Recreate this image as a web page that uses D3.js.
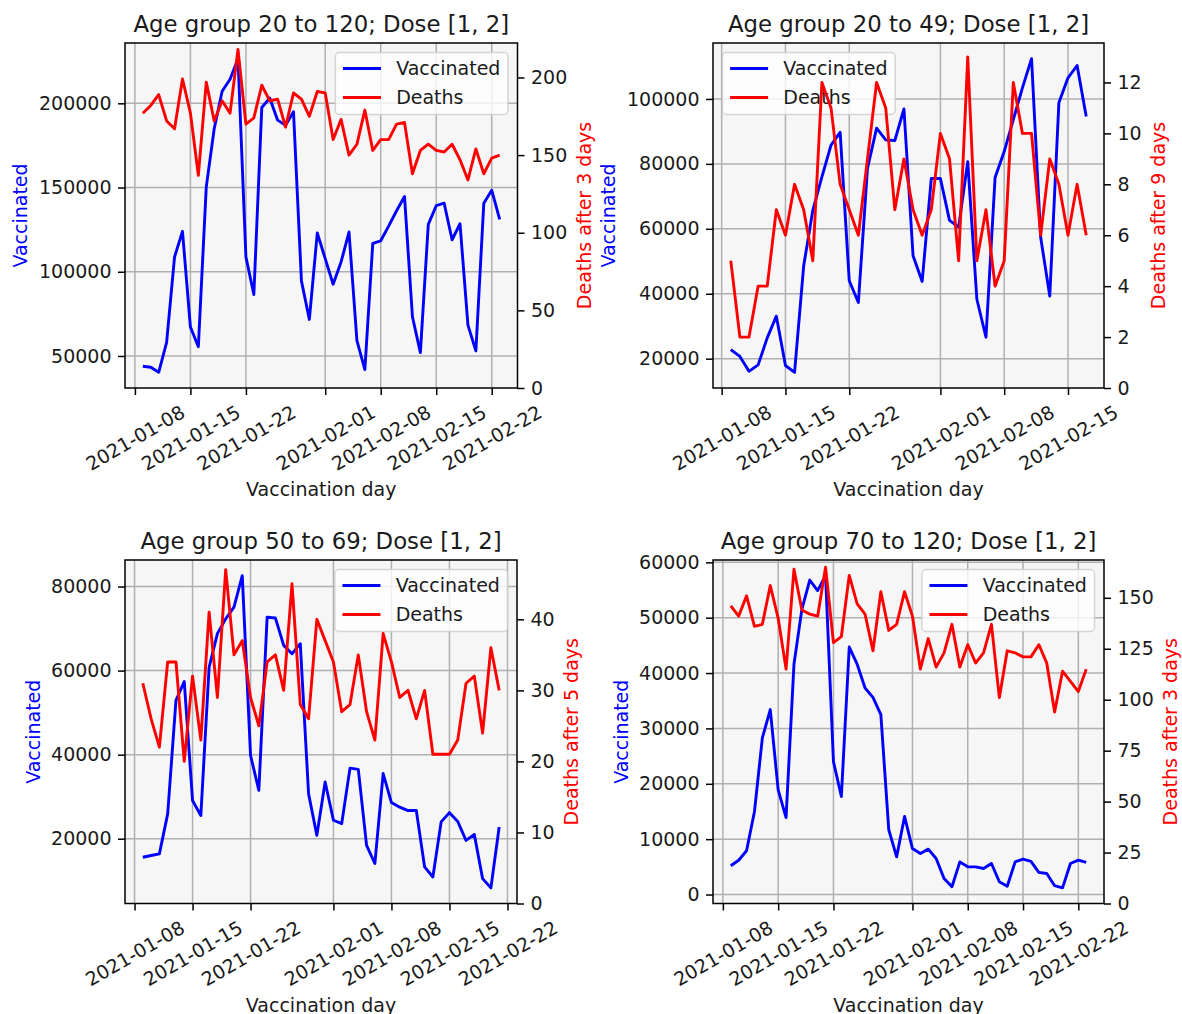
<!DOCTYPE html>
<html><head><meta charset="utf-8">
<script src="https://cdn.jsdelivr.net/npm/d3@7"></script>
<style>
body{margin:0;background:#fff}
svg{display:block}
text{font-family:"DejaVu Sans",sans-serif}
</style>
</head><body>
<svg id="c" width="1182" height="1014"></svg>
<script>
// ---------------- DATA ----------------
const titles = [
  "Age group 20 to 120; Dose [1, 2]",
  "Age group 20 to 49; Dose [1, 2]",
  "Age group 50 to 69; Dose [1, 2]",
  "Age group 70 to 120; Dose [1, 2]"
];
const deathLabels = ["Deaths after 3 days", "Deaths after 9 days", "Deaths after 5 days", "Deaths after 3 days"];
const leftLabel = "Vaccinated";
const xLabel = "Vaccination day";
const seriesNames = ["Vaccinated", "Deaths"];
// first and last vaccination day of each panel (one point per day)
const firstDays = ["2021-01-09", "2021-01-09", "2021-01-09", "2021-01-09"];
const lastDays  = ["2021-02-23", "2021-02-17", "2021-02-21", "2021-02-23"];
const xTickLabels = ["2021-01-08","2021-01-15","2021-01-22","2021-02-01","2021-02-08","2021-02-15","2021-02-22"];

const vacc1 = [43900,43300,40300,58100,108800,124000,67200,55500,150400,184900,207200,214300,226500,108800,86500,197500,203100,190000,186900,195000,94600,71700,123000,107800,92600,105800,123600,59100,41900,116900,118400,127100,136200,144700,73300,52000,128100,139200,140700,119000,128500,68300,53000,140700,148400,131100];
const deaths1 = [177,182,189,172,167,199,177,137,197,172,185,177,218,170,174,195,185,186,168,190,186,175,191,190,160,173,150,157,179,153,160,160,170,171,138,153,157,153,152,157,147,134,154,138,148,150];

const vacc2 = [22800,20700,16100,18100,26400,33100,17900,15800,48600,65700,76000,85800,89700,44000,37300,78600,91000,87400,87200,96900,51700,43800,75500,75500,62600,60500,80700,38300,26600,75800,83800,93600,103400,112400,57400,39300,98800,106500,110300,94600];
const deaths2 = [5,2,2,4,4,7,6,8,7,5,12,11,8,7,6,9,12,11,7,9,7,6,7,10,9,5,13,5,7,4,5,12,10,10,6,9,8,6,8,6];

const vacc3 = [15600,16000,16400,25900,52900,57400,29100,25500,60800,68800,72300,75100,82600,39800,31500,72700,72500,66000,64000,66400,30700,20800,33500,24400,23600,36800,36500,18400,14100,35500,28600,27500,26700,26700,13300,10900,24000,26200,24100,19600,21000,10500,8300,22800];
const deaths3 = [31,26,22,34,34,20,32,23,41,29,47,35,37,29,25,34,35,30,45,28,26,40,37,34,27,28,35,27,23,38,34,29,30,26,30,21,21,21,23,31,32,24,36,30];

const vacc4 = [5200,6200,7900,15000,28300,33400,18900,13900,41600,51500,56800,54900,57600,24000,17700,44700,41600,37300,35600,32500,11700,6800,14100,8300,7400,8200,6500,2900,1400,5900,5000,5000,4700,5600,2300,1500,5900,6400,6000,4000,3800,1600,1200,5600,6200,5800];
const deaths4 = [146,141,151,136,137,156,140,115,164,144,142,141,165,128,131,161,147,142,124,153,134,137,153,141,115,130,116,123,137,116,127,118,123,137,101,124,123,121,121,127,118,94,114,109,104,115];

const leftTicks1 = [50000,100000,150000,200000];
const rightTicks1 = [0,50,100,150,200];
const leftTicks2 = [20000,40000,60000,80000,100000];
const rightTicks2 = [0,2,4,6,8,10,12];
const leftTicks3 = [20000,40000,60000,80000];
const rightTicks3 = [0,10,20,30,40];
const leftTicks4 = [0,10000,20000,30000,40000,50000,60000];
const rightTicks4 = [0,25,50,75,100,125,150];

// ---------------- LAYOUT ----------------
const FS = 19, TFS = 22.8, LW = 2.9;
const TEXT = "#1a1a1a";
const parse = d3.timeParse("%Y-%m-%d");
const svg = d3.select("#c");

const panels = [
  {box:[125, 43, 517.5, 388],  vacc:vacc1, deaths:deaths1, lt:leftTicks1, rt:rightTicks1, legend:"right"},
  {box:[713, 43, 1104, 388],   vacc:vacc2, deaths:deaths2, lt:leftTicks2, rt:rightTicks2, legend:"left"},
  {box:[125, 560, 517, 903.5], vacc:vacc3, deaths:deaths3, lt:leftTicks3, rt:rightTicks3, legend:"right"},
  {box:[713, 560, 1104, 903.5],vacc:vacc4, deaths:deaths4, lt:leftTicks4, rt:rightTicks4, legend:"right"}
];

function styleAxis(a){
  a.select(".domain").remove();
  a.selectAll(".tick line").attr("stroke","#000").attr("stroke-width",1.5);
  a.selectAll(".tick text").attr("fill",TEXT).style("font-size",FS+"px").style("font-family","DejaVu Sans");
}

panels.forEach((p, i) => {
  const [L,T,R,B] = p.box;
  const g = svg.append("g");
  const dates = d3.timeDay.range(parse(firstDays[i]), d3.timeDay.offset(parse(lastDays[i]), 1));
  const span = dates[dates.length-1] - dates[0];
  const x = d3.scaleTime()
    .domain([new Date(+dates[0] - 0.05*span), new Date(+dates[dates.length-1] + 0.05*span)])
    .range([L, R]);
  const vMin = d3.min(p.vacc), vMax = d3.max(p.vacc);
  const yL = d3.scaleLinear().domain([vMin - 0.05*(vMax-vMin), vMax + 0.05*(vMax-vMin)]).range([B, T]);
  const dMin = d3.min(p.deaths), dMax = d3.max(p.deaths);
  const yR = d3.scaleLinear().domain([0, dMax + 0.05*(dMax-dMin)]).range([B, T]);

  // background
  g.append("rect").attr("x",L).attr("y",T).attr("width",R-L).attr("height",B-T).attr("fill","#f6f6f6");

  // grid
  const xt = xTickLabels.map(parse).filter(d => d >= x.domain()[0] && d <= x.domain()[1]);
  g.append("g").selectAll("line").data(xt).join("line")
    .attr("x1",d=>x(d)).attr("x2",d=>x(d)).attr("y1",T).attr("y2",B)
    .attr("stroke","#b0b0b0").attr("stroke-width",1.5);
  g.append("g").selectAll("line").data(p.lt).join("line")
    .attr("x1",L).attr("x2",R).attr("y1",d=>yL(d)).attr("y2",d=>yL(d))
    .attr("stroke","#b0b0b0").attr("stroke-width",1.5);

  // vaccinated line
  g.append("path").datum(p.vacc)
    .attr("d", d3.line().x((d,j)=>x(dates[j])).y(d=>yL(d)))
    .attr("fill","none").attr("stroke","#0000ff").attr("stroke-width",LW).attr("stroke-linejoin","round");

  // legend (belongs to first axes, below the deaths line)
  const lg = g.append("g");
  const tmp = lg.append("text").style("font-size",FS+"px").text(seriesNames[0]);
  const tw = tmp.node().getComputedTextLength(); tmp.remove();
  const lw = (0.4+2+0.8+0.4)*FS + tw, lh = 62;
  const lx = p.legend === "right" ? R - 9.5 - lw : L + 9.5;
  const ly = T + 9.5;
  lg.append("rect").attr("x",lx).attr("y",ly).attr("width",lw).attr("height",lh).attr("rx",4)
    .attr("fill","#fff").attr("fill-opacity",0.8).attr("stroke","#cccccc").attr("stroke-opacity",0.8).attr("stroke-width",1.5);
  [["#0000ff",16],["#ff0000",45]].forEach(([c,dy],k)=>{
    lg.append("line").attr("x1",lx+0.4*FS).attr("x2",lx+2.4*FS).attr("y1",ly+dy).attr("y2",ly+dy)
      .attr("stroke",c).attr("stroke-width",LW);
    lg.append("text").attr("x",lx+3.2*FS).attr("y",ly+dy).attr("dy","0.35em")
      .attr("fill",TEXT).style("font-size",FS+"px").text(seriesNames[k]);
  });

  // deaths line (twin axes, drawn on top)
  g.append("path").datum(p.deaths)
    .attr("d", d3.line().x((d,j)=>x(dates[j])).y(d=>yR(d)))
    .attr("fill","none").attr("stroke","#ff0000").attr("stroke-width",LW).attr("stroke-linejoin","round");

  // spines
  g.append("rect").attr("x",L).attr("y",T).attr("width",R-L).attr("height",B-T)
    .attr("fill","none").attr("stroke","#000").attr("stroke-width",1.5);

  // axes
  const ax = g.append("g").attr("transform",`translate(0,${B})`)
    .call(d3.axisBottom(x).tickValues(xt).tickSize(7).tickFormat(d3.timeFormat("%Y-%m-%d")));
  styleAxis(ax);
  ax.selectAll(".tick text").attr("y",0).attr("dy","0.35em").attr("text-anchor","middle")
    .attr("transform","translate(0,50) rotate(-30)");

  const al = g.append("g").attr("transform",`translate(${L},0)`)
    .call(d3.axisLeft(yL).tickValues(p.lt).tickSize(7).tickPadding(6.5).tickFormat(d3.format("d")));
  styleAxis(al);
  const ar = g.append("g").attr("transform",`translate(${R},0)`)
    .call(d3.axisRight(yR).tickValues(p.rt).tickSize(7).tickPadding(6.5).tickFormat(d3.format("d")));
  styleAxis(ar);

  const lW = d3.max(al.selectAll(".tick text").nodes(), n => n.getComputedTextLength());
  const rW = d3.max(ar.selectAll(".tick text").nodes(), n => n.getComputedTextLength());
  const cy = (T+B)/2;
  g.append("text").attr("transform",`translate(${L-13.5-lW-11.5},${cy}) rotate(-90)`)
    .attr("text-anchor","middle").attr("fill","#0000ff").style("font-size",FS+"px").text(leftLabel);
  g.append("text").attr("transform",`translate(${R+13.5+rW+23.6},${cy}) rotate(-90)`)
    .attr("text-anchor","middle").attr("fill","#ff0000").style("font-size",FS+"px").text(deathLabels[i]);

  // title & x label
  g.append("text").attr("x",(L+R)/2).attr("y",T-11.4).attr("text-anchor","middle")
    .attr("fill",TEXT).style("font-size",TFS+"px").text(titles[i]);
  g.append("text").attr("x",(L+R)/2).attr("y",B+108).attr("text-anchor","middle")
    .attr("fill",TEXT).style("font-size",FS+"px").text(xLabel);
});
</script>
</body></html>
